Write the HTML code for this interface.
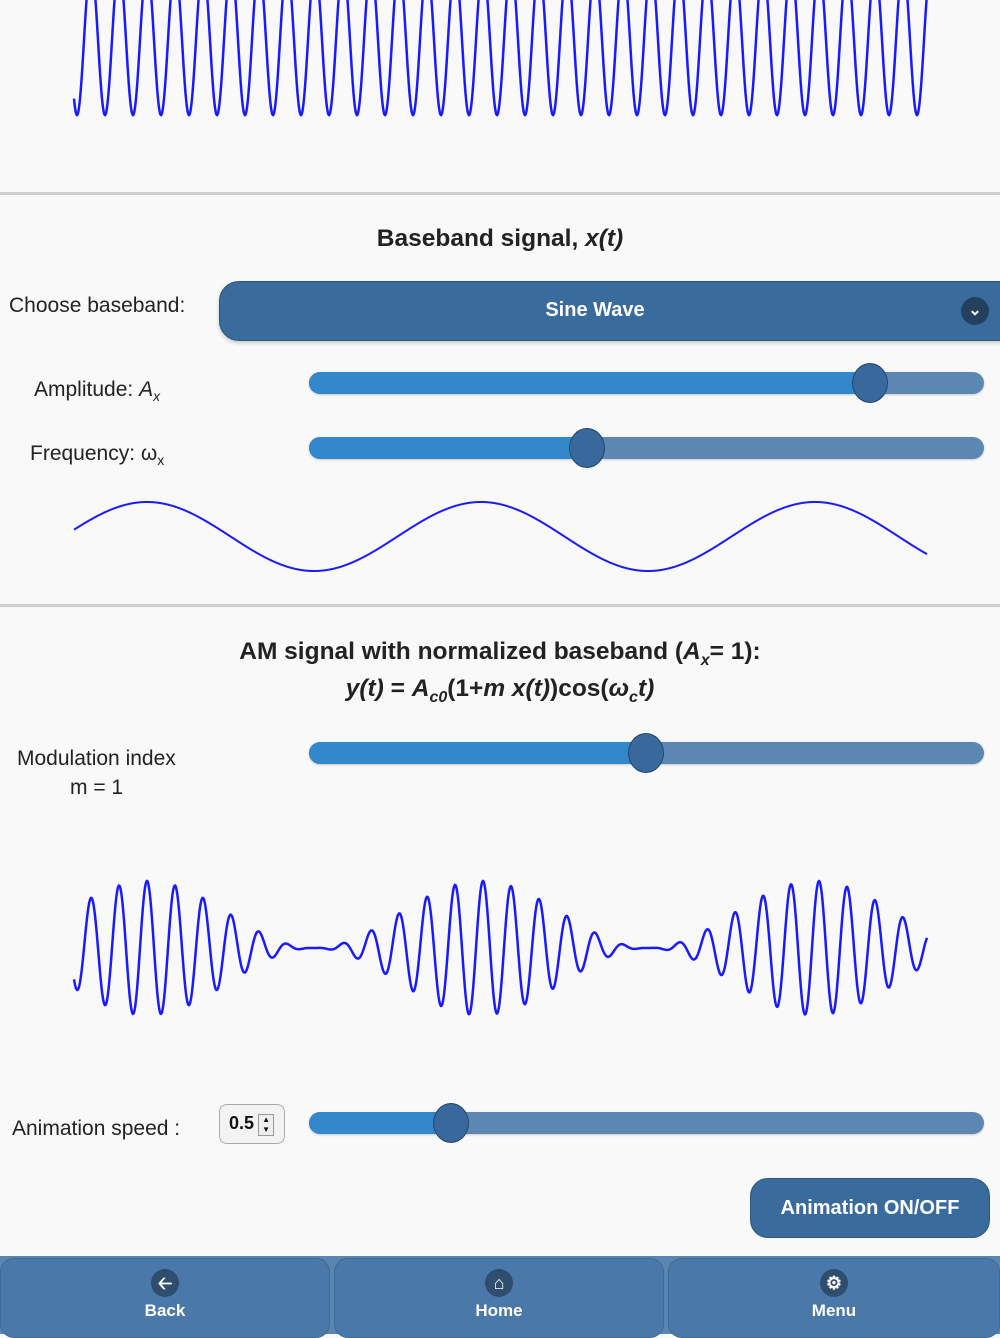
<!DOCTYPE html>
<html><head><meta charset="utf-8">
<style>
body{margin:0;width:1000px;height:1334px;background:#f9f9f9;font-family:"Liberation Sans",sans-serif;position:relative;overflow:hidden;color:#333}
.a{position:absolute}
.sep{position:absolute;left:0;width:1000px;height:3px;background:#cfcfcf}
.lbl{position:absolute;font-size:21px;color:#222;white-space:nowrap}
.track{position:absolute;left:309px;width:675px;height:22px;border-radius:11px;background:#5c87b3;overflow:hidden;box-shadow:0 1px 2px rgba(0,0,0,.2)}
.fill{position:absolute;left:0;top:0;height:22px;background:#3388cc}
.thumb{position:absolute;width:36px;height:40px;border-radius:50%;background:#38689c;border:1.5px solid #1f4770;box-sizing:border-box}
.title{position:absolute;left:0;width:1000px;text-align:center;font-weight:bold;font-size:24.5px;color:#222}
.fb{position:absolute;top:1258px;height:80px;width:330px;background:#4a78a8;border:1px solid #3d6a96;border-radius:14px;box-sizing:border-box;color:#fff;font-weight:bold;font-size:17px;text-align:center}
.ic{width:28px;height:28px;border-radius:50%;background:#2f4d6e;margin:10px auto 4px;color:#fff;font-size:18px;line-height:28px}
</style></head><body>
<svg class="a" style="left:0;top:0" width="1000" height="1334">
<path id="p1" fill="none" stroke="#1a1aff" stroke-width="2.5"/>
<path id="p2" fill="none" stroke="#1a1aff" stroke-width="2"/>
<path id="p3" fill="none" stroke="#1a1aff" stroke-width="2.5"/>
</svg>
<div class="sep" style="top:192px"></div>
<div class="title" style="top:225px">Baseband signal, <i>x(t)</i></div>
<div class="lbl" style="left:9px;top:294px">Choose baseband:</div>
<div class="a" style="left:219px;top:281px;width:800px;height:60px;border-radius:20px;background:#3a6b9d;border:1px solid #2a567f;box-sizing:border-box;box-shadow:0 2px 4px rgba(0,0,0,.2)"></div>
<div class="a" style="left:219px;top:299px;width:752px;text-align:center;color:#fff;font-weight:bold;font-size:20px">Sine Wave</div>
<div class="a" style="left:961px;top:297px;width:28px;height:28px;border-radius:50%;background:#23405f;color:#fff;text-align:center;font-size:16px;line-height:28px;font-weight:bold">&#8964;</div>
<div class="lbl" style="left:34px;top:378px">Amplitude: <i>A</i><sub style="font-size:14px"><i>x</i></sub></div>
<div class="track" style="top:372px"><div class="fill" style="width:561px"></div></div>
<div class="thumb" style="left:852px;top:363px"></div>
<div class="lbl" style="left:30px;top:442px">Frequency: ω<sub style="font-size:14px">x</sub></div>
<div class="track" style="top:437px"><div class="fill" style="width:278px"></div></div>
<div class="thumb" style="left:569px;top:428px"></div>
<div class="sep" style="top:604px"></div>
<div class="title" style="top:638px">AM signal with normalized baseband (<i>A<sub style="font-size:16px">x</sub></i>= 1):</div>
<div class="title" style="top:675px"><i>y(t)</i> = <i>A<sub style="font-size:16px">c0</sub></i>(1+<i>m x(t)</i>)cos(<i>ω<sub style="font-size:16px">c</sub>t)</i></div>
<div class="lbl" style="left:17px;top:747px">Modulation index</div>
<div class="lbl" style="left:70px;top:776px">m = 1</div>
<div class="track" style="top:742px"><div class="fill" style="width:337px"></div></div>
<div class="thumb" style="left:628px;top:733px"></div>
<div class="lbl" style="left:12px;top:1117px">Animation speed :</div>
<div class="a" style="left:219px;top:1104px;width:66px;height:40px;border:1px solid #aaa;border-radius:8px;background:#f3f3f3;box-sizing:border-box;font-weight:bold;font-size:18px;padding:8px 0 0 9px;color:#111">0.5<span style="display:inline-block;width:14px;height:20px;border:1px solid #999;margin-left:4px;vertical-align:-3px;font-size:8px;line-height:10px;text-align:center;background:#eee">▲<br>▼</span></div>
<div class="track" style="top:1112px"><div class="fill" style="width:142px"></div></div>
<div class="thumb" style="left:433px;top:1103px"></div>
<div class="a" style="left:750px;top:1178px;width:240px;height:60px;border-radius:18px;background:#3a6b9d;border:1px solid #2a567f;box-sizing:border-box;color:#fff;font-weight:bold;font-size:20px;text-align:center;line-height:58px">Animation ON/OFF</div>
<div class="a" style="left:0;top:1256px;width:1000px;height:78px;background:#5a85b0"></div>
<div class="fb" style="left:0"><div class="ic">&#129120;</div>Back</div>
<div class="fb" style="left:334px"><div class="ic">&#8962;</div>Home</div>
<div class="fb" style="left:668px;width:332px"><div class="ic">&#9881;</div>Menu</div>
<script>
function mk(f,x0,x1){var d='';for(var x=x0;x<=x1;x+=0.5){d+=(x==x0?'M':'L')+x.toFixed(1)+' '+f(x).toFixed(2)+' ';}return d;}
var P=Math.PI;
document.getElementById('p1').setAttribute('d',mk(function(x){return 40+75*Math.cos(2*P*(x-77)/28);},74,927));
document.getElementById('p2').setAttribute('d',mk(function(x){return 536.5-34.5*Math.cos(2*P*(x-147)/334);},74,927));
document.getElementById('p3').setAttribute('d',mk(function(x){var e=33.5*(1+Math.cos(2*P*(x-147)/334));return 948+e*Math.cos(2*P*(x-77)/28);},74,927));
</script>
</body></html>
